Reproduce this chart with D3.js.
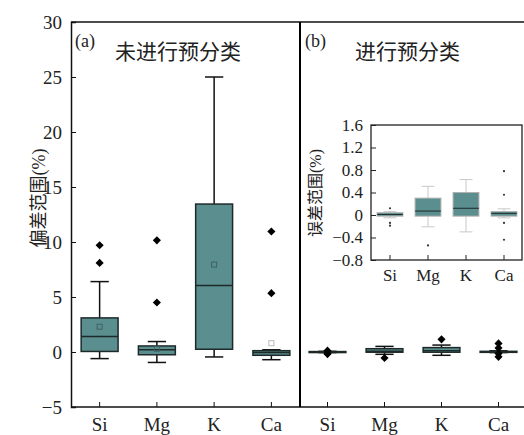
<!DOCTYPE html>
<html><head><meta charset="utf-8">
<script src="https://cdn.jsdelivr.net/npm/d3@7"></script>
<style>body{margin:0;background:#fff}svg{display:block}</style>
</head><body>
<script>
const categories = ["Si","Mg","K","Ca"];
// panel (a): 未进行预分类
const leftLow    = [-0.6, -0.95, -0.45, -0.7];
const leftQ1     = [0.05, -0.25, 0.25, -0.3];
const leftMedian = [1.4, 0.2, 6.05, -0.05];
const leftQ3     = [3.1, 0.55, 13.45, 0.12];
const leftHigh   = [6.4, 0.95, 25, 0.2];
const leftMean   = [2.3, 0.3, 7.95, 0.8];
const leftOutliers = [[9.7, 8.1],[10.15, 4.5],[],[10.95, 5.35]];
// panel (b): 进行预分类
const rightLow    = [-0.05, -0.21, -0.30, -0.05];
const rightQ1     = [-0.02, -0.02, -0.02, -0.02];
const rightMedian = [0.01, 0.07, 0.12, 0.03];
const rightQ3     = [0.04, 0.30, 0.40, 0.06];
const rightHigh   = [0.06, 0.51, 0.63, 0.11];
const rightMean   = [0.0, 0.1, 0.15, 0.02];
const rightOutliers = [[0.12,-0.14,-0.19],[-0.54],[1.15],[0.78,0.36,-0.14,-0.44]];
const insetOutliers = [[0.12,-0.14,-0.19],[-0.54],[],[0.78,0.36,-0.14,-0.44]];
const mainTicks = [-5,0,5,10,15,20,25,30];
const insetTicks = [-0.8,-0.4,0,0.4,0.8,1.2,1.6];

const W=524,H=435;
const FONT = "'Liberation Serif','Times New Roman','Noto Sans CJK SC',serif";
const TEAL = "#5b8f8f", DARK="#1e2a2a";
const svg = d3.select("body").append("svg").attr("width",W).attr("height",H)
  .style("font-family",FONT);

const pTop=22,pBottom=407,leftX=71,divX=300,rightEnd=527;
const y = d3.scaleLinear().domain([-5,30]).range([pBottom,pTop]);
const xL = d3.scaleBand().domain(categories).range([leftX,divX]).padding(0);
const xR = d3.scaleBand().domain(categories).range([divX-1,rightEnd]).padding(0);

function drawBoxes(g, x, yS, d, opt){
  categories.forEach((c,i)=>{
    const cx = x(c)+x.bandwidth()/2;
    const bw = x.bandwidth()*opt.boxFrac, cw = x.bandwidth()*opt.capFrac;
    g.append("line").attr("x1",cx).attr("x2",cx).attr("y1",yS(d.high[i])).attr("y2",yS(d.q3[i]))
      .attr("stroke",opt.whisk).attr("stroke-width",opt.sw);
    g.append("line").attr("x1",cx).attr("x2",cx).attr("y1",yS(d.low[i])).attr("y2",yS(d.q1[i]))
      .attr("stroke",opt.whisk).attr("stroke-width",opt.sw);
    [d.high[i],d.low[i]].forEach(v=>g.append("line").attr("x1",cx-cw/2).attr("x2",cx+cw/2)
      .attr("y1",yS(v)).attr("y2",yS(v)).attr("stroke",opt.whisk).attr("stroke-width",opt.sw));
    g.append("rect").attr("x",cx-bw/2).attr("width",bw)
      .attr("y",yS(d.q3[i])).attr("height",Math.max(1,yS(d.q1[i])-yS(d.q3[i])))
      .attr("fill",TEAL).attr("stroke",opt.boxStroke).attr("stroke-width",opt.sw);
    g.append("line").attr("x1",cx-bw/2).attr("x2",cx+bw/2).attr("y1",yS(d.median[i])).attr("y2",yS(d.median[i]))
      .attr("stroke",DARK).attr("stroke-width",opt.sw);
    if(opt.meanSize>0){
      const s=opt.meanSize;
      g.append("rect").attr("x",cx-s/2).attr("y",yS(d.mean[i])-s/2).attr("width",s).attr("height",s)
        .attr("fill","none").attr("stroke",opt.meanStroke[i]).attr("stroke-width",1);
    }
    d.out[i].forEach(v=>{
      if(opt.diamond){
        g.append("path").attr("d",d3.symbol(d3.symbolDiamond2,opt.diamond)())
          .attr("transform",`translate(${cx},${yS(v)})`).attr("fill","#000");
      } else {
        g.append("circle").attr("cx",cx).attr("cy",yS(v)).attr("r",1.1).attr("fill","#333");
      }
    });
  });
}

const frame = svg.append("g").attr("stroke","#111").attr("stroke-width",1.5);
frame.append("line").attr("x1",leftX).attr("x2",W).attr("y1",pTop).attr("y2",pTop);
frame.append("line").attr("x1",leftX).attr("x2",W).attr("y1",pBottom).attr("y2",pBottom);

const ay = svg.append("g").attr("transform",`translate(${leftX},0)`)
  .call(d3.axisLeft(y).tickValues(mainTicks).tickSize(-5).tickPadding(9).tickFormat(d3.format("d")));
ay.select(".domain").attr("stroke","#111").attr("stroke-width",1.5);
ay.selectAll(".tick line").attr("stroke","#111");
ay.selectAll(".tick text").attr("font-size",19).attr("fill","#222").attr("font-family",FONT);

[xL,xR].forEach(xs=>{
  const ax = svg.append("g").attr("transform",`translate(0,${pBottom})`)
    .call(d3.axisBottom(xs).tickSize(-5).tickPadding(11));
  ax.select(".domain").remove();
  ax.selectAll(".tick line").attr("stroke","#111");
  ax.selectAll(".tick text").attr("font-size",19).attr("fill","#222").attr("font-family",FONT);
});

svg.append("line").attr("x1",divX).attr("x2",divX).attr("y1",pTop).attr("y2",pBottom)
  .attr("stroke","#000").attr("stroke-width",2);

svg.append("text").attr("transform",`translate(45,198) rotate(-90)`).attr("text-anchor","middle")
  .attr("font-size",18).attr("fill","#222").text("偏差范围(%)");

svg.append("text").attr("x",75).attr("y",47).attr("font-size",18).attr("fill","#222").text("(a)");
svg.append("text").attr("x",115).attr("y",59).attr("font-size",21).attr("fill","#222").text("未进行预分类");
svg.append("text").attr("x",305).attr("y",47).attr("font-size",18).attr("fill","#222").text("(b)");
svg.append("text").attr("x",355).attr("y",59).attr("font-size",21).attr("fill","#222").text("进行预分类");

drawBoxes(svg.append("g"), xL, y,
  {low:leftLow,q1:leftQ1,median:leftMedian,q3:leftQ3,high:leftHigh,mean:leftMean,out:leftOutliers},
  {boxFrac:0.645,capFrac:0.32,whisk:"#111",boxStroke:"#1e2a2a",sw:1.5,meanSize:5,
   meanStroke:["#3f6060","#3f6060","#3f6060","#bbb"],diamond:42});

drawBoxes(svg.append("g"), xR, y,
  {low:rightLow,q1:rightQ1,median:rightMedian,q3:rightQ3,high:rightHigh,mean:rightMean,out:rightOutliers},
  {boxFrac:0.645,capFrac:0.32,whisk:"#111",boxStroke:"#1e2a2a",sw:1.5,meanSize:0,meanStroke:[],diamond:42});

const iTop=125,iBottom=260,iLeft=371,iRight=522;
const yi = d3.scaleLinear().domain([-0.8,1.6]).range([iBottom,iTop]);
const xi = d3.scaleBand().domain(categories).range([iLeft,iRight+1]).padding(0);
const ig = svg.append("g");
ig.append("rect").attr("x",iLeft).attr("y",iTop).attr("width",iRight-iLeft).attr("height",iBottom-iTop)
  .attr("fill","#fff").attr("stroke","#222").attr("stroke-width",1.3);
const iy = ig.append("g").attr("transform",`translate(${iLeft},0)`)
  .call(d3.axisLeft(yi).tickValues(insetTicks).tickSize(-5).tickPadding(8)
    .tickFormat(d=>d===0?"0":d3.format(".1f")(d)));
iy.select(".domain").remove();
iy.selectAll(".tick line").attr("stroke","#222");
iy.selectAll(".tick text").attr("font-size",17).attr("fill","#222").attr("font-family",FONT);
const ix = ig.append("g").attr("transform",`translate(0,${iBottom})`)
  .call(d3.axisBottom(xi).tickSize(-5).tickPadding(9));
ix.select(".domain").remove();
ix.selectAll(".tick line").attr("stroke","#222");
ix.selectAll(".tick text").attr("font-size",17).attr("fill","#222").attr("font-family",FONT);
ig.append("text").attr("transform",`translate(321,193) rotate(-90)`).attr("text-anchor","middle")
  .attr("font-size",16).attr("fill","#222").text("误差范围(%)");
drawBoxes(ig.append("g"), xi, yi,
  {low:rightLow,q1:rightQ1,median:rightMedian,q3:rightQ3,high:rightHigh,mean:rightMean,out:insetOutliers},
  {boxFrac:0.68,capFrac:0.34,whisk:"#c8c8c8",boxStroke:"#b0b0b0",sw:1,meanSize:0,meanStroke:[],diamond:0});
</script>
</body></html>
